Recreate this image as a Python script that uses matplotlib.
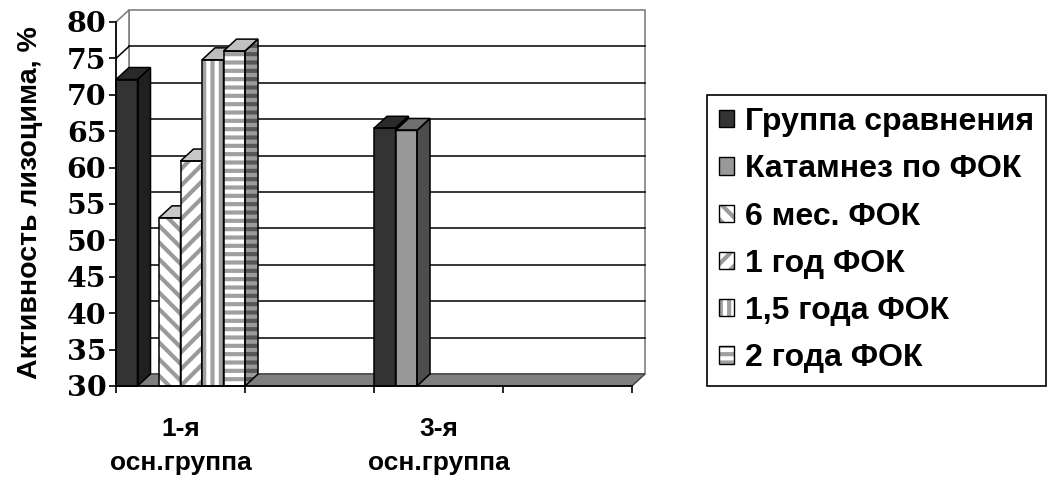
import matplotlib
matplotlib.use("Agg")
import matplotlib.pyplot as plt
from matplotlib.patches import Polygon, Patch

# data
categories = ["1-я\nосн.группа", "", "3-я\nосн.группа", ""]
series_names = ["Группа сравнения", "Катамнез по ФОК", "6 мес. ФОК",
                "1 год ФОК", "1,5 года ФОК", "2 года ФОК"]
sravn = [72.1, None, 65.4, None]
katamnez = [None, None, 65.1, None]
mes6 = [53.1, None, None, None]
god1 = [60.9, None, None, None]
god15 = [74.8, None, None, None]
god2 = [76.0, None, None, None]
series_values = [sravn, katamnez, mes6, god1, god15, god2]
yticks = list(range(30, 81, 5))

# styles: front, side, top, hatch, hatch colour (front), hatch colour (side)
styles = [
    dict(front="#333333", side="#202020", top="#2a2a2a", hatch=None),
    dict(front="#999999", side="#4d4d4d", top="#707070", hatch=None),
    dict(front="white", side="#e0e0e0", top="#c8c8c8", hatch="\\\\", hc="#9a9a9a", hcs="#7a7a7a"),
    dict(front="white", side="#e0e0e0", top="#c8c8c8", hatch="//", hc="#9a9a9a", hcs="#7a7a7a"),
    dict(front="white", side="#d8d8d8", top="#bdbdbd", hatch="||", hc="#a0a0a0", hcs="#808080"),
    dict(front="white", side="#9a9a9a", top="#c0c0c0", hatch="--", hc="#a0a0a0", hcs="#555555"),
]

plt.rcParams["hatch.linewidth"] = 3.0

W, H = 1058, 484
fig = plt.figure(figsize=(W / 100, H / 100), dpi=100)

# pixel mapping of the front plane
px0, pxcat = 116.0, 129.0
py30, pyunit = 386.0, 7.28
ax_l, ax_r, ax_t, ax_b = 100.0, 700.0, 0.0, 400.0
ax = fig.add_axes([ax_l / W, (H - ax_b) / H, (ax_r - ax_l) / W, (ax_b - ax_t) / H])
ax.set_xlim((ax_l - px0) / pxcat, (ax_r - px0) / pxcat)
ax.set_ylim(30 - (ax_b - py30) / pyunit, 30 + (py30 - ax_t) / pyunit)
ax.patch.set_visible(False)

DX = 13.0 / pxcat
DY = 12.0 / pyunit
ncat = len(categories)
ymin, ymax = yticks[0], yticks[-1]

# back wall
ax.add_patch(Polygon([(DX, ymin + DY), (ncat + DX, ymin + DY), (ncat + DX, ymax + DY), (DX, ymax + DY)],
                     closed=True, facecolor="white", edgecolor="#808080", lw=1.2, zorder=1))
# left wall
ax.add_patch(Polygon([(0, ymin), (DX, ymin + DY), (DX, ymax + DY), (0, ymax)],
                     closed=True, facecolor="white", edgecolor="#808080", lw=1.2, zorder=1))
# gridlines
for v in yticks[1:-1]:
    ax.plot([DX, ncat + DX], [v + DY, v + DY], color="black", lw=1.1, zorder=2)
    ax.plot([0, DX], [v, v + DY], color="black", lw=1.1, zorder=2)
# floor
ax.add_patch(Polygon([(0, ymin), (ncat, ymin), (ncat + DX, ymin + DY), (DX, ymin + DY)],
                     closed=True, facecolor="#808080", edgecolor="#404040", lw=1.0, zorder=3))

# bars
nser = len(series_values)
bw = 1.0 / nser
z = 4
for i in range(ncat):
    for k in range(nser):
        v = series_values[k][i]
        if v is None:
            continue
        st = styles[k]
        x0 = i + k * bw
        x1 = x0 + bw
        front = [(x0, ymin), (x1, ymin), (x1, v), (x0, v)]
        top = [(x0, v), (x1, v), (x1 + DX, v + DY), (x0 + DX, v + DY)]
        side = [(x1, ymin), (x1 + DX, ymin + DY), (x1 + DX, v + DY), (x1, v)]
        for poly, fc, hc in [(side, st["side"], st.get("hcs")), (top, st["top"], None),
                             (front, st["front"], st.get("hc"))]:
            if st["hatch"] and hc and poly is not top:
                ax.add_patch(Polygon(poly, closed=True, facecolor=fc, edgecolor=hc,
                                     hatch=st["hatch"], lw=0, zorder=z))
            else:
                ax.add_patch(Polygon(poly, closed=True, facecolor=fc, lw=0, zorder=z))
            ax.add_patch(Polygon(poly, closed=True, fill=False, edgecolor="black",
                                 lw=1.1, zorder=z + 0.5))
        z += 1

# axes
for s in ["top", "right"]:
    ax.spines[s].set_visible(False)
ax.spines["left"].set_position(("data", 0))
ax.spines["left"].set_bounds(ymin, ymax)
ax.spines["bottom"].set_position(("data", ymin))
ax.spines["bottom"].set_bounds(0, ncat)
for s in ["left", "bottom"]:
    ax.spines[s].set_linewidth(1.2)
    ax.spines[s].set_zorder(50)

ax.set_yticks(yticks)
ax.set_yticklabels([str(t) for t in yticks], family="DejaVu Serif",
                   fontweight="bold", fontsize=20.5)
ax.tick_params(axis="y", length=5, width=1.2, pad=2)
ax.set_xticks(range(ncat + 1))
ax.set_xticklabels([])
ax.set_xticks([i + 0.5 for i in range(ncat)], minor=True)
ax.set_xticklabels(categories, minor=True, family="Liberation Sans",
                   fontweight="bold", fontsize=19, linespacing=1.55)
ax.tick_params(axis="x", which="major", length=5, width=1.2)
ax.tick_params(axis="x", which="minor", length=0, pad=22)

fig.text(30 / W, 1 - 203 / H, "Активность лизоцима, %", rotation=90,
         ha="center", va="center", family="Liberation Sans",
         fontweight="bold", fontsize=20.5)

# legend
handles = []
for st in styles:
    if st["hatch"]:
        h = (Patch(facecolor="white", edgecolor=st["hc"], hatch=st["hatch"], lw=0),
             Patch(fill=False, edgecolor="black", lw=1.0))
    else:
        h = Patch(facecolor=st["front"], edgecolor="black", lw=1.0)
    handles.append(h)
leg = fig.legend(handles, series_names, loc="upper left",
                 bbox_to_anchor=(707 / W, 1 - 95 / H), borderaxespad=0,
                 prop=dict(family="Liberation Sans", weight="bold", size=23),
                 fancybox=False, edgecolor="black", framealpha=1,
                 handlelength=0.45, handleheight=0.45, handletextpad=0.35,
                 labelspacing=0.54, borderpad=0.38)
leg.get_frame().set_linewidth(1.2)

fig.savefig("out.png", dpi=100)
plt.close(fig)
